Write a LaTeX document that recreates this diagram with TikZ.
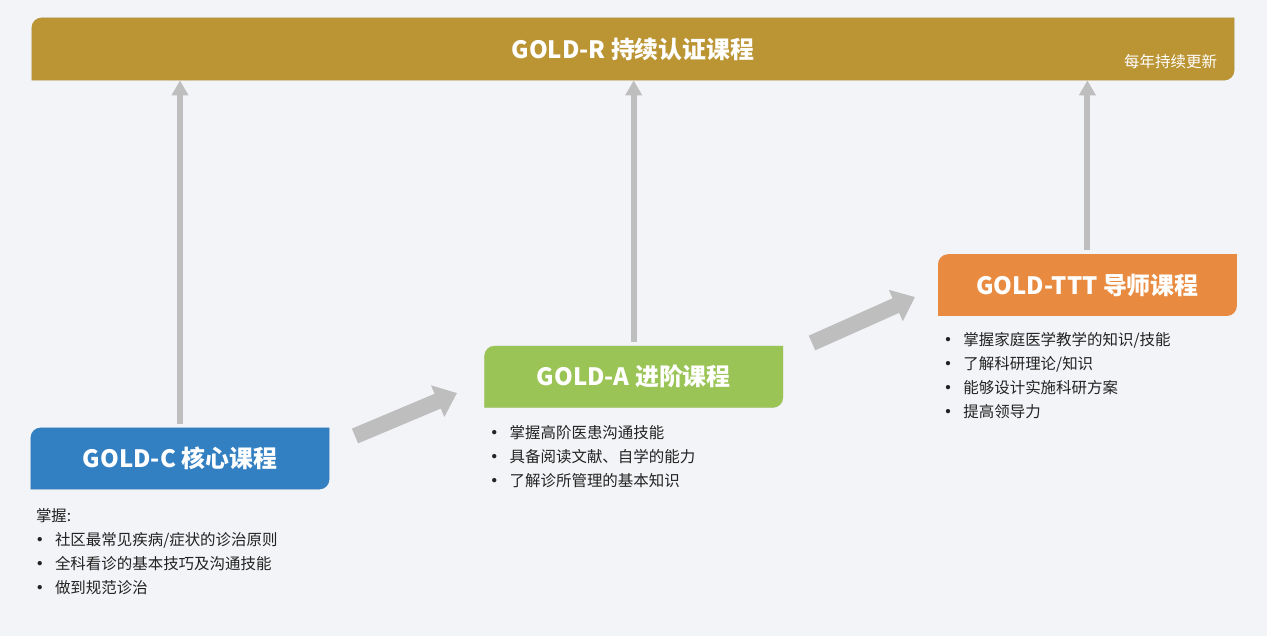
\documentclass[tikz,border=0pt]{standalone}
\usepackage{fontspec}
\setmainfont{Noto Sans CJK SC}
\usetikzlibrary{positioning, arrows.meta}
\definecolor{pagecol}{RGB}{243,244,247}
\definecolor{barcol}{RGB}{187,148,52}
\definecolor{corecol}{RGB}{50,128,194}
\definecolor{advcol}{RGB}{155,196,86}
\definecolor{tttcol}{RGB}{232,139,64}
\definecolor{linkcol}{RGB}{190,190,190}
\definecolor{goalcol}{RGB}{34,34,34}
\pgfdeclarelayer{bg}
\pgfsetlayers{bg,main}
\newcommand\goalbullet{\makebox[0.38cm][l]{\hspace{-0.08cm}\textbf{•}}}
\tikzset{
    course/.style={ % Heading boxes of the three courses
        minimum width=5.96cm,
        minimum height=1.22cm,
        inner sep=0pt,
        text=white,
        font=\fontsize{13.6}{16}\selectfont\bfseries
    },
    goals/.style={ % Bullet lists under each box
        inner sep=0pt,
        align=left,
        text=goalcol,
        font=\fontsize{8.8}{13.66}\selectfont
    },
    uplink/.style={ % Thin grey arrows up to the top bar
        draw=linkcol,
        line width=0.12cm,
        -{Triangle[width=0.32cm, length=0.3cm]},
        shorten <=0.08cm
    },
    fatarrow/.style={ % Broad arrows from one course to the next
        draw=linkcol,
        line width=0.32cm,
        -{Triangle[width=0.66cm, length=0.42cm]}
    }
}

\begin{document}
\begin{tikzpicture}
    \useasboundingbox (0,0) rectangle (25.34,12.72);

    \node[course, minimum width=24.04cm, minimum height=1.24cm] (bar) at (12.66,11.74) {GOLD-R 持续认证课程};
    \node[anchor=base east, inner sep=0pt, text=white, font=\fontsize{8.8}{10}\selectfont]
        (yearly) at ([xshift=-0.34cm, yshift=0.25cm]bar.south east) {每年持续更新};

    \node[course] (core) at (3.6,3.55) {GOLD-C 核心课程};
    \node[course, above right=0.4cm and 3.1cm of core] (adv) {GOLD-A 进阶课程};
    \node[course, above right=0.6cm and 3.1cm of adv] (ttt) {GOLD-TTT 导师课程};

    \node[goals, below right=0.38cm and 0.1cm of core.south west] (coregoals)
        {掌握:\\ \goalbullet 社区最常见疾病/症状的诊治原则\\ \goalbullet 全科看诊的基本技巧及沟通技能\\ \goalbullet 做到规范诊治};
    \node[goals, below right=0.35cm and 0.12cm of adv.south west] (advgoals)
        {\goalbullet 掌握高阶医患沟通技能\\ \goalbullet 具备阅读文献、自学的能力\\ \goalbullet 了解诊所管理的基本知识};
    \node[goals, below right=0.33cm and 0.12cm of ttt.south west] (tttgoals)
        {\goalbullet 掌握家庭医学教学的知识/技能\\ \goalbullet 了解科研理论/知识\\ \goalbullet 能够设计实施科研方案\\ \goalbullet 提高领导力};

    % page and box fills, boxes with only two corners rounded
    \begin{pgfonlayer}{bg}
        \fill[pagecol] (0,0) rectangle (25.34,12.72);
        \foreach \b/\c in {bar/barcol, core/corecol, adv/advcol, ttt/tttcol} {
            \fill[black, opacity=0.15, shift={(0.03,-0.04)}] (\b.south west) [rounded corners=0.2cm] -- (\b.north west) [sharp corners] -- (\b.north east) [rounded corners=0.2cm] -- (\b.south east) [sharp corners] -- cycle;
            \fill[\c] (\b.south west) [rounded corners=0.2cm] -- (\b.north west) [sharp corners] -- (\b.north east) [rounded corners=0.2cm] -- (\b.south east) [sharp corners] -- cycle;
        }
    \end{pgfonlayer}

    \draw[uplink] (core.north) -- (core |- bar.south);
    \draw[uplink] (adv.north) -- (adv |- bar.south);
    \draw[uplink] (ttt.north) -- (ttt |- bar.south);

    \coordinate (p1) at (7.1,4.0);
    \coordinate (p2) at (9.14,4.86);
    \coordinate (p3) at (16.24,5.86);
    \coordinate (p4) at (18.3,6.78);
    \draw[fatarrow] (p1) -- (p2);
    \draw[fatarrow] (p3) -- (p4);
\end{tikzpicture}
\end{document}
